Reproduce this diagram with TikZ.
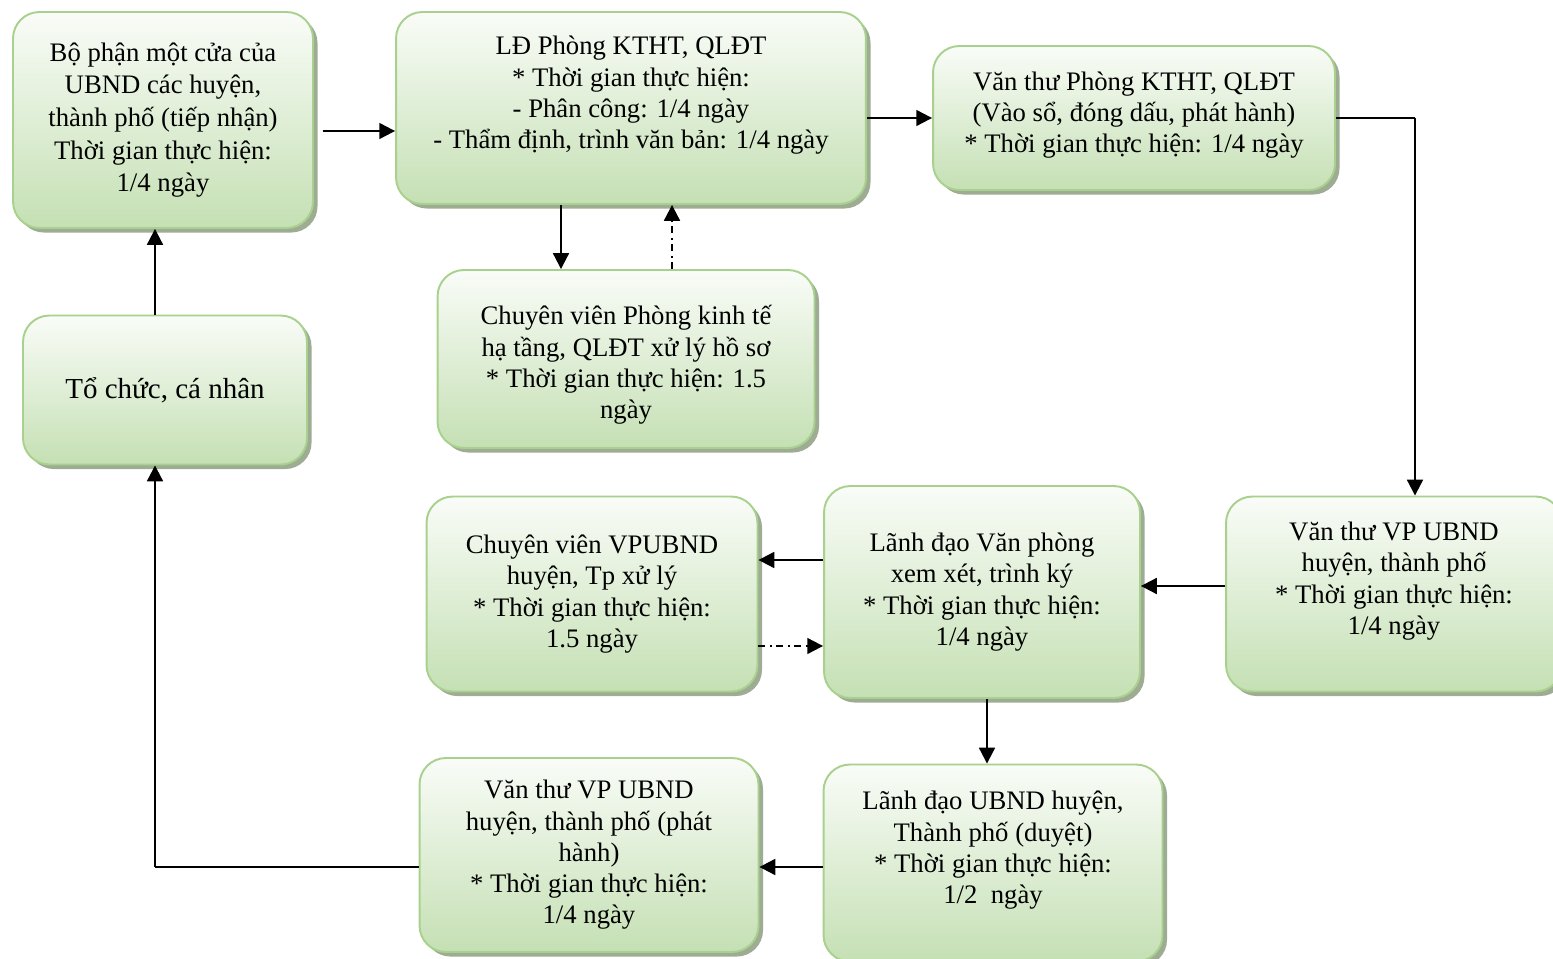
\documentclass[tikz,border=0pt]{standalone}
\usepackage{fontspec}
\setmainfont{Liberation Serif}
\usetikzlibrary{arrows.meta,shadows}
\definecolor{boxgreen}{RGB}{197,224,180}
\definecolor{boxline}{RGB}{169,209,142}
\definecolor{boxshadow}{RGB}{158,172,148}
\begin{document}
\begin{tikzpicture}[x=0.02cm, y=-0.02cm,
    greenbox/.style={draw=boxline, line width=1.1pt, rounded corners=15pt,
      top color=boxgreen!10, bottom color=boxgreen, align=center,
      font=\fontsize{15.2}{17.8}\selectfont, inner sep=2pt,
      drop shadow={shadow xshift=2.6pt, shadow yshift=-2.6pt, fill=boxshadow, opacity=1}},
    arrowline/.style={line width=1.2pt, -{Triangle[length=9pt,width=9pt]}},
    thinline/.style={line width=0.6pt},
    dotline/.style={arrowline, dash pattern=on 4pt off 2.5pt on 1.2pt off 2.5pt}]
    \useasboundingbox (0,0) rectangle (1553,959);

    \node[greenbox, minimum width=6cm, minimum height=4.32cm, font=\fontsize{15.2}{18.6}\selectfont] (bophan) at (163,120)
      {Bộ phận một cửa của\\UBND các huyện,\\thành phố (tiếp nhận)\\Thời gian thực hiện:\\1/4 ngày};
    \node[greenbox, minimum width=9.4cm, minimum height=3.84cm] (ldphong) at (631,108)
      {LĐ Phòng KTHT, QLĐT\\* Thời gian thực hiện:\\- Phân công: 1/4 ngày\\- Thẩm định, trình văn bản: 1/4 ngày\\\mbox{}};
    \node[greenbox, minimum width=8.04cm, minimum height=2.88cm] (vtphong) at (1134,118)
      {Văn thư Phòng KTHT, QLĐT\\(Vào sổ, đóng dấu, phát hành)\\* Thời gian thực hiện: 1/4 ngày\\[-11pt]\mbox{}};
    \node[greenbox, minimum width=5.68cm, minimum height=2.98cm, font=\fontsize{16.5}{19}\selectfont] (tochuc) at (165,390)
      {Tổ chức, cá nhân};
    \node[greenbox, minimum width=7.54cm, minimum height=3.56cm] (cvphong) at (626,359)
      {\mbox{}\\Chuyên viên Phòng kinh tế\\hạ tầng, QLĐT xử lý hồ sơ\\* Thời gian thực hiện: 1.5\\ngày};
    \node[greenbox, minimum width=6.62cm, minimum height=3.9cm] (cvvp) at (592,594)
      {Chuyên viên VPUBND\\huyện, Tp xử lý\\* Thời gian thực hiện:\\1.5 ngày};
    \node[greenbox, minimum width=6.32cm, minimum height=4.24cm] (ldvp) at (982,592)
      {Lãnh đạo Văn phòng\\xem xét, trình ký\\* Thời gian thực hiện:\\1/4 ngày};
    \node[greenbox, minimum width=6.72cm, minimum height=3.9cm] (vtvp) at (1394,594)
      {Văn thư VP UBND\\huyện, thành phố\\* Thời gian thực hiện:\\1/4 ngày\\\mbox{}};
    \node[greenbox, minimum width=6.78cm, minimum height=3.94cm] (ldub) at (993,863)
      {Lãnh đạo UBND huyện,\\Thành phố (duyệt)\\* Thời gian thực hiện:\\1/2~~ngày\\\mbox{}};
    \node[greenbox, minimum width=6.78cm, minimum height=3.88cm] (vtph) at (589,855)
      {Văn thư VP UBND\\huyện, thành phố (phát\\hành)\\* Thời gian thực hiện:\\1/4 ngày};

    \draw[arrowline, shorten <=5pt] (bophan.east |- 0,131) -- (ldphong.west |- 0,131);
    \draw[arrowline] (ldphong.east |- 0,118) -- (vtphong.west |- 0,118);
    \draw[thinline] (vtphong.east |- 0,118) -- (1415,118);
    \draw[arrowline] (1415,118) -- (vtvp.north -| 1415,0);
    \draw[arrowline] (ldphong.south -| 561,0) -- (cvphong.north -| 561,0);
    \draw[dotline] (cvphong.north -| 672,0) -- (ldphong.south -| 672,0);
    \draw[arrowline] (vtvp.west |- 0,586) -- (ldvp.east |- 0,586);
    \draw[arrowline] (ldvp.west |- 0,560) -- (cvvp.east |- 0,560);
    \draw[dotline] (cvvp.east |- 0,646) -- (ldvp.west |- 0,646);
    \draw[arrowline] (ldvp.south -| 987,0) -- (ldub.north -| 987,0);
    \draw[arrowline] (ldub.west |- 0,867) -- (vtph.east |- 0,867);
    \draw[thinline] (vtph.west |- 0,867) -- (155,867);
    \draw[arrowline] (155,867) -- (tochuc.south -| 155,0);
    \draw[arrowline] (tochuc.north -| 155,0) -- (bophan.south -| 155,0);

  \end{tikzpicture}
\end{document}
